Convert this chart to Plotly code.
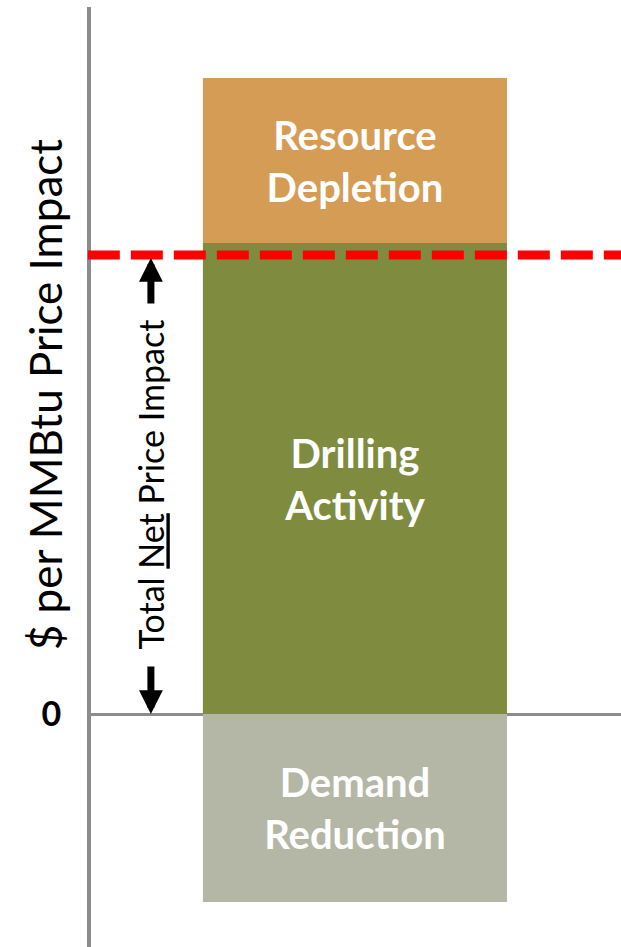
import plotly.graph_objects as go

# stacked components of the price impact ($/MMBtu)
segments = ["Drilling<br>Activity", "Resource<br>Depletion", "Demand<br>Reduction"]
values = [4.71, 1.65, -1.88]
colors = ["#7F8C3F", "#D59C55", "#B5B7A6"]
net_impact = 4.59

fig = go.Figure()
for name, val, col in zip(segments, values, colors):
    fig.add_trace(go.Bar(
        x=[0], y=[val], width=1, name=name,
        marker=dict(color=col, line=dict(width=0)),
        text=[name], textposition="inside", insidetextanchor="middle",
        textfont=dict(family="Lato", size=40, color="white", weight="bold"),
        hoverinfo="skip",
    ))

# red dashed line at the net price impact
fig.add_shape(type="line", xref="paper", x0=-0.006, x1=1, yref="y",
              y0=net_impact, y1=net_impact,
              line=dict(color="#FF0000", width=9, dash="32px,11px"))

# double arrow for the net impact
arrow_x = -0.671
fig.add_annotation(x=arrow_x, y=net_impact, ax=arrow_x, ay=net_impact - 0.5,
                   xref="x", yref="y", axref="x", ayref="y", text="",
                   showarrow=True, arrowhead=2, arrowwidth=7, arrowsize=0.68,
                   arrowcolor="black", standoff=3)
fig.add_annotation(x=arrow_x, y=0, ax=arrow_x, ay=0.49,
                   xref="x", yref="y", axref="x", ayref="y", text="",
                   showarrow=True, arrowhead=2, arrowwidth=7, arrowsize=0.68,
                   arrowcolor="black", standoff=0)
fig.add_annotation(x=arrow_x, y=net_impact / 2, xref="x", yref="y",
                   text="Total <u>Net</u> Price Impact", textangle=-90,
                   showarrow=False, font=dict(family="Lato", size=34, color="black"))

# y axis title
fig.add_annotation(x=-0.087, y=0.588, xref="paper", yref="paper",
                   xanchor="center", yanchor="middle",
                   text="$ per MMBtu Price Impact", textangle=-90, showarrow=False,
                   font=dict(family="Lato", size=44, color="black"))

fig.update_layout(
    width=621, height=947,
    margin=dict(l=91, r=0, t=7, b=0),
    barmode="relative",
    showlegend=False,
    plot_bgcolor="white", paper_bgcolor="white",
    xaxis=dict(range=[-0.868, 0.875], visible=False, fixedrange=True),
    yaxis=dict(range=[-2.33, 7.07], showgrid=False,
               showline=True, linecolor="#8C8C8C", linewidth=4,
               zeroline=True, zerolinecolor="#8C8C8C", zerolinewidth=3,
               tickvals=[0], ticktext=["0"], ticks="",
               ticklabelstandoff=19,
               tickfont=dict(family="Lato", size=34, color="black", weight="bold")),
)

# drop the default page margin so the figure fills the window
fig.write_html("out.html", config={"displayModeBar": False}, post_script=(
    "document.body.style.margin='0';"
    "document.documentElement.style.overflow='hidden';"))
